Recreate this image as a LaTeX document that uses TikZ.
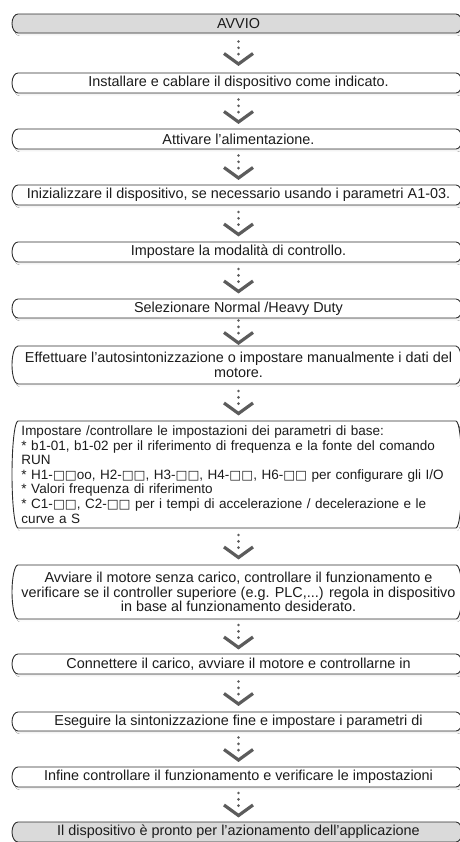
\documentclass[tikz,border=0pt]{standalone}
\usepackage{fontspec}
\setmainfont{Liberation Sans}
\newfontfamily\squarefont{DejaVu Sans}
\usetikzlibrary{decorations.markings}

\definecolor{edge}{HTML}{2E2E2E}
\definecolor{shade}{HTML}{858585}
\definecolor{startfill}{HTML}{DADADA}
\definecolor{arrowgray}{HTML}{5C5C5C}
\definecolor{ink}{HTML}{1C1C1C}

% placeholder square used in parameter codes
\newcommand{\emptysq}{{\squarefont\fontsize{12.6bp}{14.6bp}\selectfont □}}

\tikzset{
  steptext/.style={inner sep=0pt, align=center, text=ink,
    font=\fontsize{14.4bp}{14.6bp}\selectfont},
  listtext/.style={text width=434bp, align=left,
    font=\fontsize{13.5bp}{14.6bp}\selectfont},
  outline/.style={draw=edge, line width=0.9pt},
  flowlink/.style={decoration={markings, mark=at position 0.5 with {
      \fill[arrowgray] (-11.5,0) circle[radius=1.45] (-5.2,0) circle[radius=1.45]
        (1.1,0) circle[radius=1.45];
      \draw[arrowgray, line width=3.2pt, line cap=butt, miter limit=10]
        (0.5,14.5) -- (11,0) -- (0.5,-14.5);
    }}, postaction={decorate}}
}

% #1 node options, #2 name, #3 top edge, #4 bottom edge, #5 fill, #6 text
\newcommand{\flowstep}[6]{%
  \pgfmathsetmacro{\stepmid}{-(#3+#4)/2}%
  \pgfmathsetmacro{\stephalf}{(#4-#3)/2}%
  \pgfmathsetmacro{\stepheight}{#4-#3}%
  \fill[shade] (19.5,-#3-2.8) arc[start angle=90,end angle=270,x radius=6,y radius=\stephalf]
    -- (457.5,-#4-2.8) arc[start angle=-90,end angle=90,x radius=6,y radius=\stephalf] -- cycle;
  \filldraw[outline, fill=#5] (18,-#3) arc[start angle=90,end angle=270,x radius=6,y radius=\stephalf]
    -- (456,-#4) arc[start angle=-90,end angle=90,x radius=6,y radius=\stephalf] -- cycle;
  \node[steptext, minimum height=\stepheight bp, #1] (#2) at (238.5,\stepmid) {#6};%
}

\begin{document}
\begin{tikzpicture}[x=1bp, y=1bp]
\useasboundingbox (0,0) rectangle (460,-842);
\clip (0,0) rectangle (460,-842);
\fill[white] (0,0) rectangle (460,-842);

\flowstep{}{start}{14}{33}{startfill}{AVVIO}
\flowstep{}{s1}{73}{93}{white}{Installare e cablare il dispositivo come indicato.}
\flowstep{}{s2}{129}{149}{white}{Attivare l’alimentazione.}
\flowstep{}{s3}{185}{205}{white}{Inizializzare il dispositivo, se necessario usando i parametri A1-03.}
\flowstep{}{s4}{242}{262}{white}{Impostare la modalità di controllo.}
\flowstep{}{s5}{299}{318}{white}{Selezionare Normal /Heavy Duty}
\flowstep{}{s6}{346}{384}{white}{Effettuare l’autosintonizzazione o impostare manualmente i dati del\\motore.}
\flowstep{listtext}{s7}{421}{528}{white}{Impostare /controllare le impostazioni dei parametri di base:\\
{*} b1-01, b1-02 per il riferimento di frequenza e la fonte del comando\\
RUN\\
\mbox{{*} H1-\emptysq\emptysq oo, H2-\emptysq\emptysq, H3-\emptysq\emptysq, H4-\emptysq\emptysq, H6-\emptysq\emptysq{} per configurare gli I/O}\\
{*} Valori frequenza di riferimento\\
{*} C1-\emptysq\emptysq, C2-\emptysq\emptysq{} per i tempi di accelerazione / decelerazione e le\\
curve a S}
\flowstep{}{s8}{565}{619}{white}{Avviare il motore senza carico, controllare il funzionamento e\\
verificare se il controller superiore (e.g. PLC,...) regola in dispositivo\\
in base al funzionamento desiderato.}
\flowstep{}{s9}{654}{674}{white}{Connettere il carico, avviare il motore e controllarne in}
\flowstep{}{s10}{712}{731}{white}{Eseguire la sintonizzazione fine e impostare i parametri di}
\flowstep{}{s11}{767}{787}{white}{Infine controllare il funzionamento e verificare le impostazioni}
\flowstep{}{finish}{822}{842}{startfill}{Il dispositivo è pronto per l’azionamento dell’applicazione}

\path[flowlink] (start.south) -- (s1.north);
\path[flowlink] (s1.south) -- (s2.north);
\path[flowlink] (s2.south) -- (s3.north);
\path[flowlink] (s3.south) -- (s4.north);
\path[flowlink] (s4.south) -- (s5.north);
\path[flowlink] (s5.south) -- (s6.north);
\path[flowlink] (s6.south) -- (s7.north);
\path[flowlink] (s7.south) -- (s8.north);
\path[flowlink] (s8.south) -- (s9.north);
\path[flowlink] (s9.south) -- (s10.north);
\path[flowlink] (s10.south) -- (s11.north);
\path[flowlink] (s11.south) -- (finish.north);
\end{tikzpicture}
\end{document}
